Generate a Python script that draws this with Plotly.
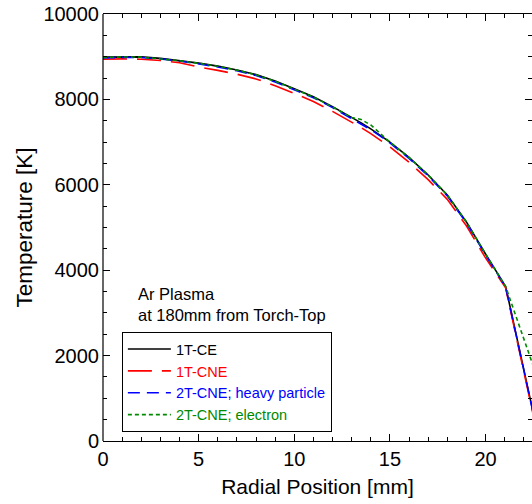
import plotly.graph_objects as go

# Radial position [mm]
radius = [0, 1, 2, 3, 4, 5, 6, 7, 8, 9, 10, 11, 12, 13, 13.5, 14, 14.5, 15, 16, 17, 18, 19, 20, 21.05, 22.5]

# Temperature [K]
t_1t_ce = [8990, 9000, 8995, 8960, 8910, 8850, 8780, 8690, 8580, 8430, 8250, 8060, 7830, 7580, 7450, 7310, 7160, 7000, 6640, 6230, 5760, 5130, 4380, 3620, 650]
t_1t_cne = [8940, 8950, 8940, 8910, 8860, 8760, 8680, 8590, 8480, 8320, 8140, 7950, 7720, 7470, 7340, 7200, 7050, 6890, 6530, 6120, 5660, 5040, 4290, 3590, 600]
t_2t_heavy = [8970, 8985, 8980, 8950, 8900, 8830, 8760, 8670, 8560, 8410, 8230, 8040, 7810, 7560, 7430, 7290, 7140, 6980, 6620, 6210, 5740, 5110, 4360, 3610, 640]
t_2t_electron = [8980, 8995, 8990, 8955, 8905, 8845, 8775, 8685, 8575, 8425, 8245, 8055, 7825, 7575, 7530, 7400, 7200, 7000, 6640, 6230, 5760, 5130, 4380, 3620, 1750]

series = [
    ("1T-CE", t_1t_ce, "#000000", "solid"),
    ("1T-CNE", t_1t_cne, "#ff0000", "24px,10px"),
    ("2T-CNE; heavy particle", t_2t_heavy, "#0000ff", "12px,7px"),
    ("2T-CNE; electron", t_2t_electron, "#008a00", "4px,3px"),
]

fig = go.Figure()
for name, vals, color, dash in series:
    fig.add_trace(go.Scatter(
        x=radius, y=vals, mode="lines",
        name=f'<span style="color:{color}">{name}</span>',
        line=dict(color=color, width=1.6, dash=dash),
    ))

font_family = "Liberation Sans, Arial, Helvetica, sans-serif"

fig.update_layout(
    width=532, height=504,
    margin=dict(l=103, r=0, t=14, b=63),
    paper_bgcolor="white", plot_bgcolor="white",
    font=dict(family=font_family, color="black", size=18),
    showlegend=True,
    legend=dict(
        x=0.044, y=0.255, xanchor="left", yanchor="top",
        bgcolor="white", bordercolor="black", borderwidth=1,
        font=dict(size=14.5, family=font_family),
        tracegroupgap=0, itemwidth=43,
    ),
    xaxis=dict(
        range=[0, 22.43], tickmode="linear", tick0=0, dtick=5,
        ticks="inside", ticklen=7, tickwidth=1, tickcolor="black",
        minor=dict(dtick=1, ticks="inside", ticklen=4, tickcolor="black"),
        showline=True, linecolor="black", linewidth=1.2, mirror="ticks",
        showgrid=False, zeroline=False,
        tickfont=dict(size=20),
        title=dict(text="Radial Position [mm]", font=dict(size=21), standoff=10),
    ),
    yaxis=dict(
        range=[0, 10000], tickmode="linear", tick0=0, dtick=2000,
        tickformat="d", ticklabelstandoff=3,
        ticks="inside", ticklen=7, tickwidth=1, tickcolor="black",
        minor=dict(dtick=500, ticks="inside", ticklen=4, tickcolor="black"),
        showline=False, mirror="ticks",
        showgrid=False, zeroline=False,
        tickfont=dict(size=20),
        title=dict(text="Temperature [K]", font=dict(size=22.5), standoff=4),
    ),
    shapes=[dict(type="line", xref="paper", yref="paper", x0=0, x1=0, y0=0, y1=1,
                 line=dict(color="black", width=1.2))],
    annotations=[dict(
        text="Ar Plasma<br>at 180mm from Torch-Top",
        xref="paper", yref="paper", x=0.077, y=0.37, xanchor="left", yanchor="top",
        showarrow=False, align="left", font=dict(size=16.5, family=font_family),
    )],
)

fig.write_html("out.html")
